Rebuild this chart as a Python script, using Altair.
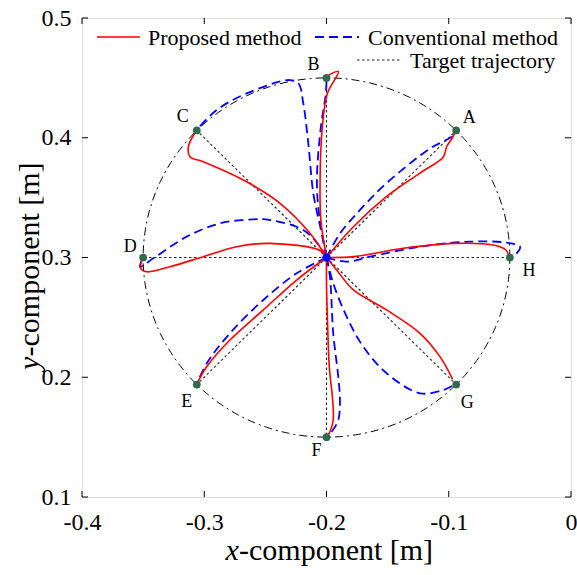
import altair as alt
import numpy as np
import pandas as pd

# ---------------- data ----------------
X_TICKS = [-0.4, -0.3, -0.2, -0.1, 0.0]
Y_TICKS = [0.1, 0.2, 0.3, 0.4, 0.5]

CENTER = (-0.2, 0.3)
RADIUS = 0.15

TARGET_NAMES = ["A", "B", "C", "D", "E", "F", "G", "H"]
TARGET_X = [-0.0939, -0.2, -0.3061, -0.35, -0.3061, -0.2, -0.0939, -0.05]
TARGET_Y = [0.4061, 0.45, 0.4061, 0.3, 0.1939, 0.15, 0.1939, 0.3]

# Proposed method (red) paths, centre -> target
PROPOSED_A = [(-0.2, 0.3), (-0.178, 0.3257), (-0.151, 0.3508), (-0.1235, 0.3705), (-0.1045, 0.384), (-0.1017, 0.3925), (-0.097, 0.400), (-0.0945, 0.4055)]
PROPOSED_B = [(-0.2, 0.3), (-0.2045, 0.33), (-0.2053, 0.3536), (-0.2034, 0.409), (-0.1993, 0.437), (-0.1903, 0.4552), (-0.2004, 0.451)]
PROPOSED_C = [(-0.2, 0.3), (-0.2135, 0.3202), (-0.238, 0.3453), (-0.268, 0.3647), (-0.3008, 0.38), (-0.3117, 0.3842), (-0.313, 0.3925), (-0.3062, 0.4065)]
PROPOSED_D = [(-0.2, 0.3), (-0.2053, 0.3058), (-0.2462, 0.3118), (-0.2735, 0.309), (-0.3008, 0.3007), (-0.328, 0.2923), (-0.3471, 0.2881), (-0.352, 0.291), (-0.35, 0.3)]
PROPOSED_E = [(-0.2, 0.3), (-0.2244, 0.2812), (-0.2517, 0.2562), (-0.279, 0.2311), (-0.298, 0.2088), (-0.3062, 0.194)]
PROPOSED_F = [(-0.2, 0.3), (-0.2, 0.278), (-0.1993, 0.2506), (-0.1977, 0.2088), (-0.195, 0.181), (-0.1945, 0.1643), (-0.1972, 0.1545), (-0.2, 0.15)]
PROPOSED_G = [(-0.2, 0.3), (-0.1917, 0.2896), (-0.178, 0.2729), (-0.1508, 0.2562), (-0.1235, 0.2367), (-0.1072, 0.2172), (-0.0968, 0.1983)]
PROPOSED_H = [(-0.2, 0.3), (-0.178, 0.3007), (-0.1372, 0.3077), (-0.0963, 0.3118), (-0.0636, 0.3104), (-0.0532, 0.3063), (-0.0505, 0.3)]

# Conventional method (blue dashed) paths, centre -> target
CONVENTIONAL_A = [(-0.2, 0.3), (-0.189, 0.320), (-0.1726, 0.3397), (-0.151, 0.362), (-0.1153, 0.391), (-0.0976, 0.401), (-0.094, 0.406)]
CONVENTIONAL_B = [(-0.2, 0.3), (-0.2065, 0.34), (-0.2078, 0.3675), (-0.2045, 0.41), (-0.2005, 0.437), (-0.2, 0.45)]
CONVENTIONAL_C = [(-0.2, 0.3), (-0.205, 0.325), (-0.2108, 0.3536), (-0.2149, 0.3954), (-0.219, 0.4288), (-0.223, 0.4455), (-0.2299, 0.4482), (-0.2653, 0.437), (-0.2898, 0.4232), (-0.3062, 0.4065)]
CONVENTIONAL_D = [(-0.2, 0.3), (-0.2053, 0.309), (-0.219, 0.323), (-0.2462, 0.3313), (-0.2599, 0.3319), (-0.2871, 0.3285), (-0.3144, 0.3174), (-0.3417, 0.2993), (-0.3526, 0.2923), (-0.35, 0.3)]
CONVENTIONAL_E = [(-0.2, 0.3), (-0.2244, 0.2868), (-0.2517, 0.2645), (-0.279, 0.2367), (-0.298, 0.2116), (-0.3062, 0.194)]
CONVENTIONAL_F = [(-0.2, 0.3), (-0.1972, 0.284), (-0.1945, 0.2367), (-0.1904, 0.2005), (-0.189, 0.181), (-0.1904, 0.1643), (-0.1958, 0.1545), (-0.2, 0.15)]
CONVENTIONAL_G = [(-0.2, 0.3), (-0.1945, 0.2785), (-0.1835, 0.2506), (-0.1699, 0.2255), (-0.1508, 0.2033), (-0.1235, 0.1866), (-0.1045, 0.1894), (-0.0949, 0.194)]
CONVENTIONAL_H = [(-0.2, 0.3), (-0.1835, 0.2965), (-0.1644, 0.3007), (-0.1235, 0.309), (-0.0826, 0.3132), (-0.0527, 0.3124), (-0.0417, 0.309), (-0.0445, 0.3035), (-0.0505, 0.3)]

LEGEND_LABELS = ["Proposed method", "Conventional method", "Target trajectory"]

PROPOSED = [PROPOSED_A, PROPOSED_B, PROPOSED_C, PROPOSED_D, PROPOSED_E, PROPOSED_F, PROPOSED_G, PROPOSED_H]
CONVENTIONAL = [CONVENTIONAL_A, CONVENTIONAL_B, CONVENTIONAL_C, CONVENTIONAL_D, CONVENTIONAL_E, CONVENTIONAL_F, CONVENTIONAL_G, CONVENTIONAL_H]

# ---------------- tables ----------------
def paths_df(paths):
    rows = []
    for name, path in zip(TARGET_NAMES, paths):
        for i, (x, y) in enumerate(path):
            rows.append({"target": name, "x": x, "y": y, "order": i})
    return pd.DataFrame(rows)

prop_df = paths_df(PROPOSED)
conv_df = paths_df(CONVENTIONAL)

tgt_rows = []
for name, tx, ty in zip(TARGET_NAMES, TARGET_X, TARGET_Y):
    tgt_rows.append({"target": name, "x": CENTER[0], "y": CENTER[1], "order": 0})
    tgt_rows.append({"target": name, "x": tx, "y": ty, "order": 1})
tgt_df = pd.DataFrame(tgt_rows)

theta = np.linspace(0, 2 * np.pi, 361)
circ_df = pd.DataFrame({"x": CENTER[0] + RADIUS * np.cos(theta),
                        "y": CENTER[1] + RADIUS * np.sin(theta),
                        "order": np.arange(len(theta))})

pts_df = pd.DataFrame({"target": TARGET_NAMES, "x": TARGET_X, "y": TARGET_Y})
ctr_df = pd.DataFrame({"x": [CENTER[0]], "y": [CENTER[1]]})
xt_df = pd.DataFrame({"x": X_TICKS})
yt_df = pd.DataFrame({"y": Y_TICKS})
one = pd.DataFrame({"a": [0]})

# ---------------- styling ----------------
FONT = "Liberation Serif"
W, H = 489, 479

LABEL_EXPR = "datum.value == 0 ? '0' : replace(format(datum.value, '.1f'), '\u2212', '-')"

xaxis = alt.Axis(values=X_TICKS, title=None, labelFont=FONT, labelFontSize=24, labelColor="black",
                 ticks=False, domain=False, grid=False, labelPadding=13, labelExpr=LABEL_EXPR,
                 labelFlush=False, labelOverlap=False)
yaxis = alt.Axis(values=Y_TICKS, title=None, labelFont=FONT, labelFontSize=24, labelColor="black",
                 ticks=False, domain=False, grid=False, labelPadding=11, labelExpr=LABEL_EXPR,
                 labelFlush=False, labelOverlap=False)

def X():
    return alt.X("x:Q", scale=alt.Scale(domain=[-0.4, 0], nice=False, zero=False), axis=xaxis)

def Y():
    return alt.Y("y:Q", scale=alt.Scale(domain=[0.1, 0.5], nice=False, zero=False), axis=yaxis)

circle = alt.Chart(circ_df).mark_line(color="black", strokeWidth=1, strokeDash=[8, 4, 2, 4]).encode(
    x=X(), y=Y(), order="order:Q")

target = alt.Chart(tgt_df).mark_line(color="#222222", strokeWidth=1.1, strokeDash=[2.5, 2.5]).encode(
    x=X(), y=Y(), detail="target:N", order="order:Q")

conv = alt.Chart(conv_df).mark_line(color="#0000ff", strokeWidth=1.8, strokeDash=[9, 5],
                                    interpolate="catmull-rom").encode(
    x=X(), y=Y(), detail="target:N", order="order:Q")

prop = alt.Chart(prop_df).mark_line(color="#ff0000", strokeWidth=1.6, interpolate="catmull-rom").encode(
    x=X(), y=Y(), detail="target:N", order="order:Q")

pts = alt.Chart(pts_df).mark_circle(color="#2e6b4f", size=60, opacity=1).encode(x=X(), y=Y())
ctr = alt.Chart(ctr_df).mark_circle(color="#0000ff", size=70, opacity=1).encode(x=X(), y=Y())

LABEL_OFFSETS = {"A": (13, -12), "B": (-13, -13), "C": (-14, -13), "D": (-13, -11),
                 "E": (-10, 17), "F": (-10, 14), "G": (11, 18), "H": (19, 13)}
label_layers = []
for name in TARGET_NAMES:
    dx, dy = LABEL_OFFSETS[name]
    label_layers.append(
        alt.Chart(pts_df[pts_df.target == name]).mark_text(
            font=FONT, fontSize=18, color="black", dx=dx, dy=dy, baseline="middle", align="center"
        ).encode(x=X(), y=Y(), text="target:N"))

# inward ticks
tick_b = alt.Chart(xt_df).mark_rule(color="black", strokeWidth=1).encode(x=X(), y=alt.value(H), y2=alt.value(H - 6))
tick_t = alt.Chart(xt_df).mark_rule(color="black", strokeWidth=1).encode(x=X(), y=alt.value(0), y2=alt.value(6))
tick_l = alt.Chart(yt_df).mark_rule(color="black", strokeWidth=1).encode(y=Y(), x=alt.value(0), x2=alt.value(6))
tick_r = alt.Chart(yt_df).mark_rule(color="black", strokeWidth=1).encode(y=Y(), x=alt.value(W), x2=alt.value(W - 6))

# legend
LEG_FS = 22
leg = [
    alt.Chart(one).mark_rule(color="#ff0000", strokeWidth=1.6).encode(x=alt.value(15), x2=alt.value(58), y=alt.value(19)),
    alt.Chart(one).mark_text(font=FONT, fontSize=LEG_FS, align="left", baseline="middle", color="black").encode(
        x=alt.value(66), y=alt.value(20), text=alt.value(LEGEND_LABELS[0])),
    alt.Chart(one).mark_rule(color="#0000ff", strokeWidth=1.8, strokeDash=[9, 5]).encode(x=alt.value(233), x2=alt.value(277), y=alt.value(19)),
    alt.Chart(one).mark_text(font=FONT, fontSize=LEG_FS, align="left", baseline="middle", color="black").encode(
        x=alt.value(286), y=alt.value(20), text=alt.value(LEGEND_LABELS[1])),
    alt.Chart(one).mark_rule(color="#222222", strokeWidth=1.1, strokeDash=[2.5, 2.5]).encode(x=alt.value(275), x2=alt.value(318), y=alt.value(42)),
    alt.Chart(one).mark_text(font=FONT, fontSize=LEG_FS, align="left", baseline="middle", color="black").encode(
        x=alt.value(328), y=alt.value(43), text=alt.value(LEGEND_LABELS[2])),
]

# axis titles with italic variable
TFS = 30
titles = [
    alt.Chart(one).mark_text(font=FONT, fontSize=TFS, fontStyle="italic", align="left", baseline="alphabetic").encode(
        x=alt.value(143.5), y=alt.value(542), text=alt.value("x")),
    alt.Chart(one).mark_text(font=FONT, fontSize=TFS, align="left", baseline="alphabetic").encode(
        x=alt.value(157), y=alt.value(542), text=alt.value("-component [m]")),
    alt.Chart(one).mark_text(font=FONT, fontSize=TFS, fontStyle="italic", align="left", baseline="alphabetic", angle=270).encode(
        x=alt.value(-43), y=alt.value(352), text=alt.value("y")),
    alt.Chart(one).mark_text(font=FONT, fontSize=TFS, align="left", baseline="alphabetic", angle=270).encode(
        x=alt.value(-43), y=alt.value(338.5), text=alt.value("-component [m]")),
]

chart = alt.layer(
    circle, target, conv, prop, pts, ctr, *label_layers, tick_b, tick_t, tick_l, tick_r, *leg, *titles
).properties(
    width=W, height=H,
    padding={"left": 82, "top": 18, "right": 6, "bottom": 78},
    autosize=alt.AutoSizeParams(type="none"),
).configure_view(stroke="black", strokeWidth=1).configure(background="white")

chart.save("out.html", embed_options={"renderer": "svg", "actions": False})
